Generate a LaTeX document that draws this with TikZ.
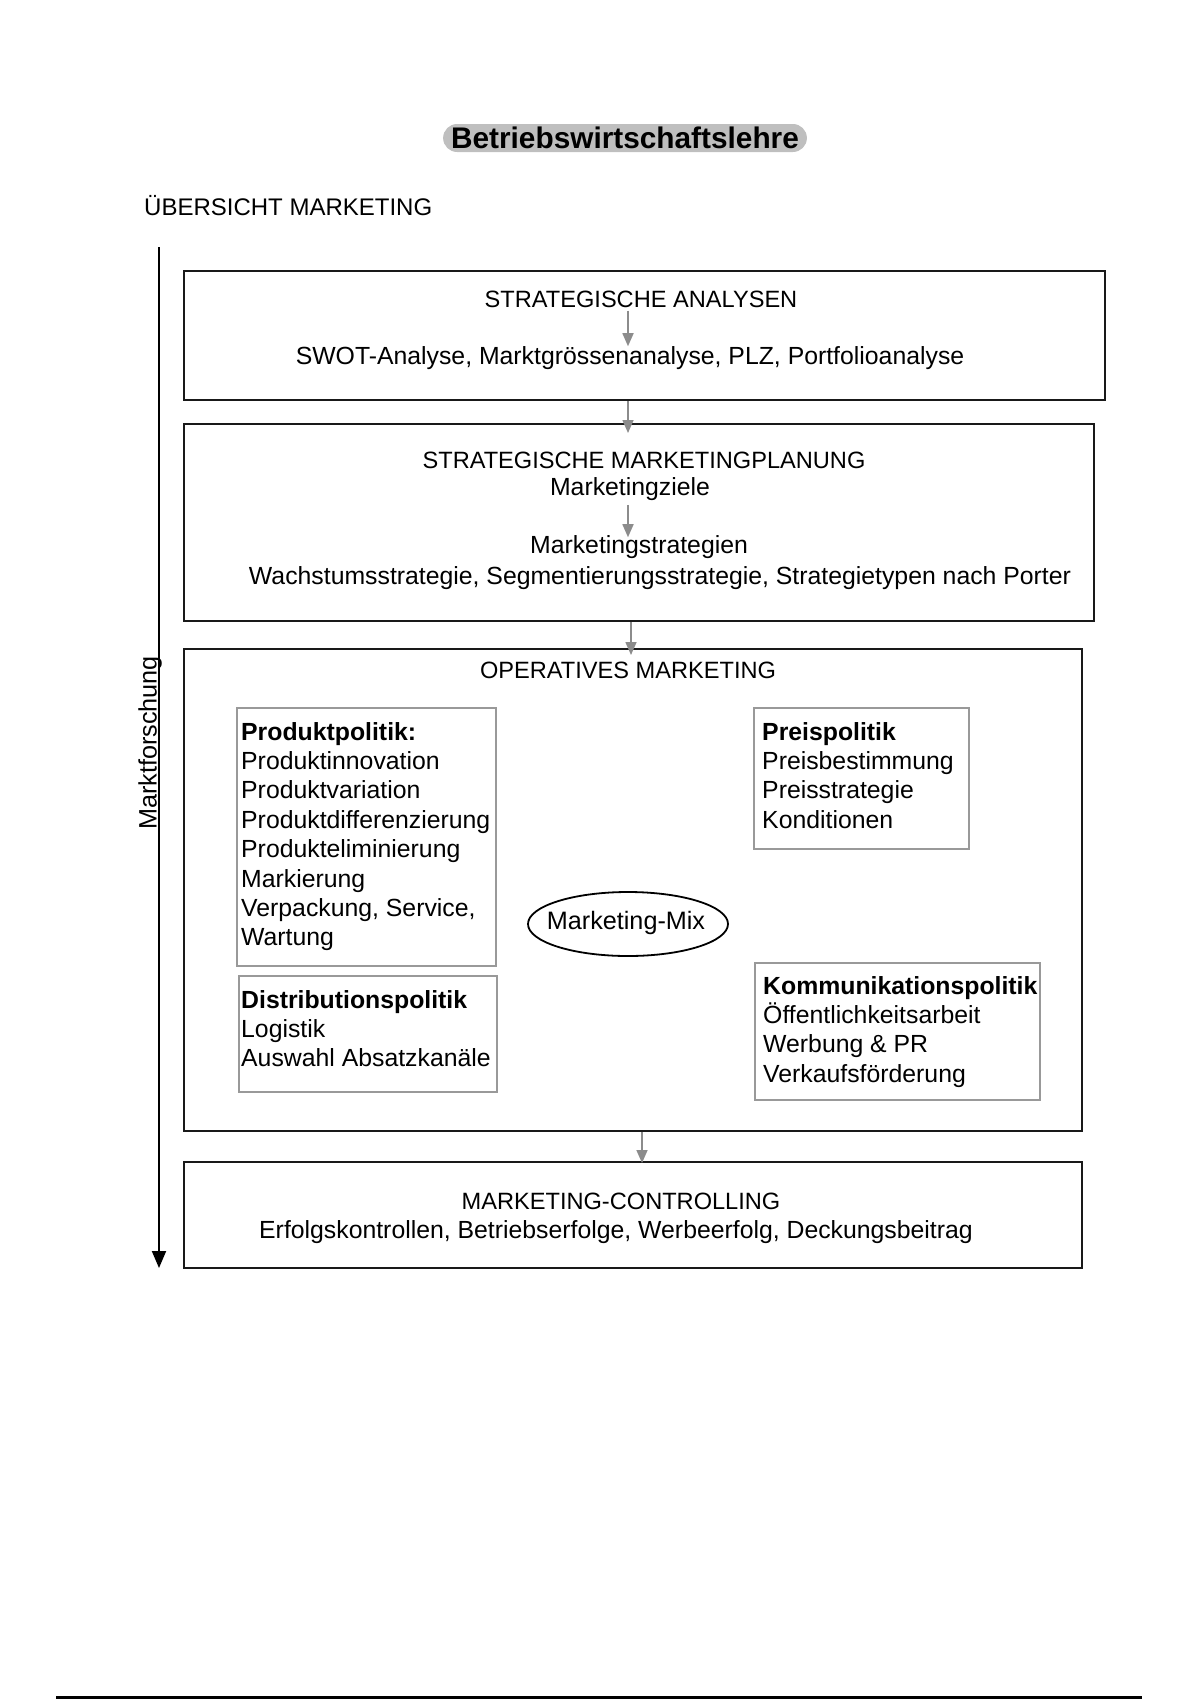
\documentclass[tikz,border=0pt]{standalone}
\usepackage{fontspec}
\setmainfont{Liberation Sans}
\usetikzlibrary{shapes.geometric,arrows.meta}
\begin{document}
\begin{tikzpicture}[x=1pt,y=-1pt,
  outer/.style={draw=black!90,line width=2pt,inner sep=0pt,anchor=north west},
  inner/.style={draw=black!40,line width=1.6pt,inner sep=0pt,anchor=north west},
  txt/.style={font=\fontsize{23.6}{29}\selectfont,inner sep=0pt},
  body/.style={font=\fontsize{24.8}{29}\selectfont,inner sep=0pt},
  list/.style={font=\fontsize{24.8}{29.4}\selectfont,align=left,inner sep=0pt,anchor=north west},
  garr/.style={draw=black!45,line width=1.6pt,-{Triangle[length=13pt,width=11pt]}},
]
\useasboundingbox (0,0) rectangle (1200,1700);

% title
\node[fill=black!25,rounded corners=14pt,minimum height=28pt,inner xsep=8pt,inner ysep=2pt,
  font=\bfseries\fontsize{29.8}{30}\selectfont] (title) at (625,138) {Betriebswirtschaftslehre};
\node[txt,font=\fontsize{24}{29}\selectfont,anchor=west] (ueb) at (144,206) {ÜBERSICHT MARKETING};

% side arrow
\coordinate (vtop) at (159,247);
\coordinate (vbot) at (159,1268);
\draw[line width=2pt,-{Triangle[length=17pt,width=14pt]}] (vtop) -- (vbot);
\node[txt,font=\fontsize{25.2}{29}\selectfont,rotate=90] (mf) at (150,743) {Marktforschung};

% box 1
\node[outer,minimum width=921pt,minimum height=129pt] (b1) at (183,270) {};
\node[txt] (h1) at (641,299) {STRATEGISCHE ANALYSEN};
\node[body] (s1) at (630,358) {SWOT-Analyse, Marktgrössenanalyse, PLZ, Portfolioanalyse};
\coordinate (ax) at (628,0);
\draw[garr] (h1.south -| ax) ++(0,3) -- (s1.north -| ax);

% box 2
\node[outer,minimum width=910pt,minimum height=197pt] (b2) at (183,423) {};
\draw[garr,shorten >=-10pt] (b1.south -| ax) -- (b2.north -| ax);
\node[txt] (h2) at (644,460) {STRATEGISCHE MARKETINGPLANUNG};
\node[body] (z2) at (630,489) {Marketingziele};
\node[body] (m2) at (639,547) {Marketingstrategien};
\node[body] (w2) at (660,578) {Wachstumsstrategie, Segmentierungsstrategie, Strategietypen nach Porter};
\draw[garr] (z2.south -| ax) ++(0,4) -- ([yshift=-2pt]m2.north -| ax);

% box 3
\node[outer,minimum width=898pt,minimum height=482pt] (b3) at (183,648) {};
\coordinate (bx) at (631,0);
\draw[garr,shorten >=-7pt] (b2.south -| bx) -- (b3.north -| bx);
\node[txt] (h3) at (628,670) {OPERATIVES MARKETING};

\node[inner,minimum width=259pt,minimum height=258pt] (ppbox) at (236,707) {};
\node[list] (pp) at (241,722) {\textbf{Produktpolitik:}\\Produktinnovation\\Produktvariation\\Produktdifferenzierung\\Produkteliminierung\\Markierung\\Verpackung, Service,\\Wartung};

\node[inner,minimum width=258pt,minimum height=116pt] (dpbox) at (238,975) {};
\node[list] (dp) at (241,990) {\textbf{Distributionspolitik}\\Logistik\\Auswahl Absatzkanäle};

\node[inner,minimum width=215pt,minimum height=141pt] (prbox) at (753,707) {};
\node[list] (pr) at (762,722) {\textbf{Preispolitik}\\Preisbestimmung\\Preisstrategie\\Konditionen};

\node[inner,minimum width=285pt,minimum height=137pt] (kpbox) at (754,962) {};
\node[list] (kp) at (763,976) {\textbf{Kommunikationspolitik}\\Öffentlichkeitsarbeit\\Werbung \& PR\\Verkaufsförderung};

\node[body,font=\fontsize{25.2}{29}\selectfont] (mix) at (626,923) {Marketing-Mix};
\draw[draw=black,line width=1.8pt] (628,924) ellipse [x radius=100, y radius=32];

% box 4
\node[outer,minimum width=898pt,minimum height=106pt] (b4) at (183,1161) {};
\coordinate (cx) at (642,0);
\draw[garr,shorten >=-2pt] (b3.south -| cx) -- (b4.north -| cx);
\node[txt] (h4) at (621,1201) {MARKETING-CONTROLLING};
\node[body] (e4) at (616,1232) {Erfolgskontrollen, Betriebserfolge, Werbeerfolg, Deckungsbeitrag};

% bottom rule
\coordinate (r1) at (56,1697);
\coordinate (r2) at (1142,1697);
\draw[line width=3pt] (r1) -- (r2);
\end{tikzpicture}
\end{document}
